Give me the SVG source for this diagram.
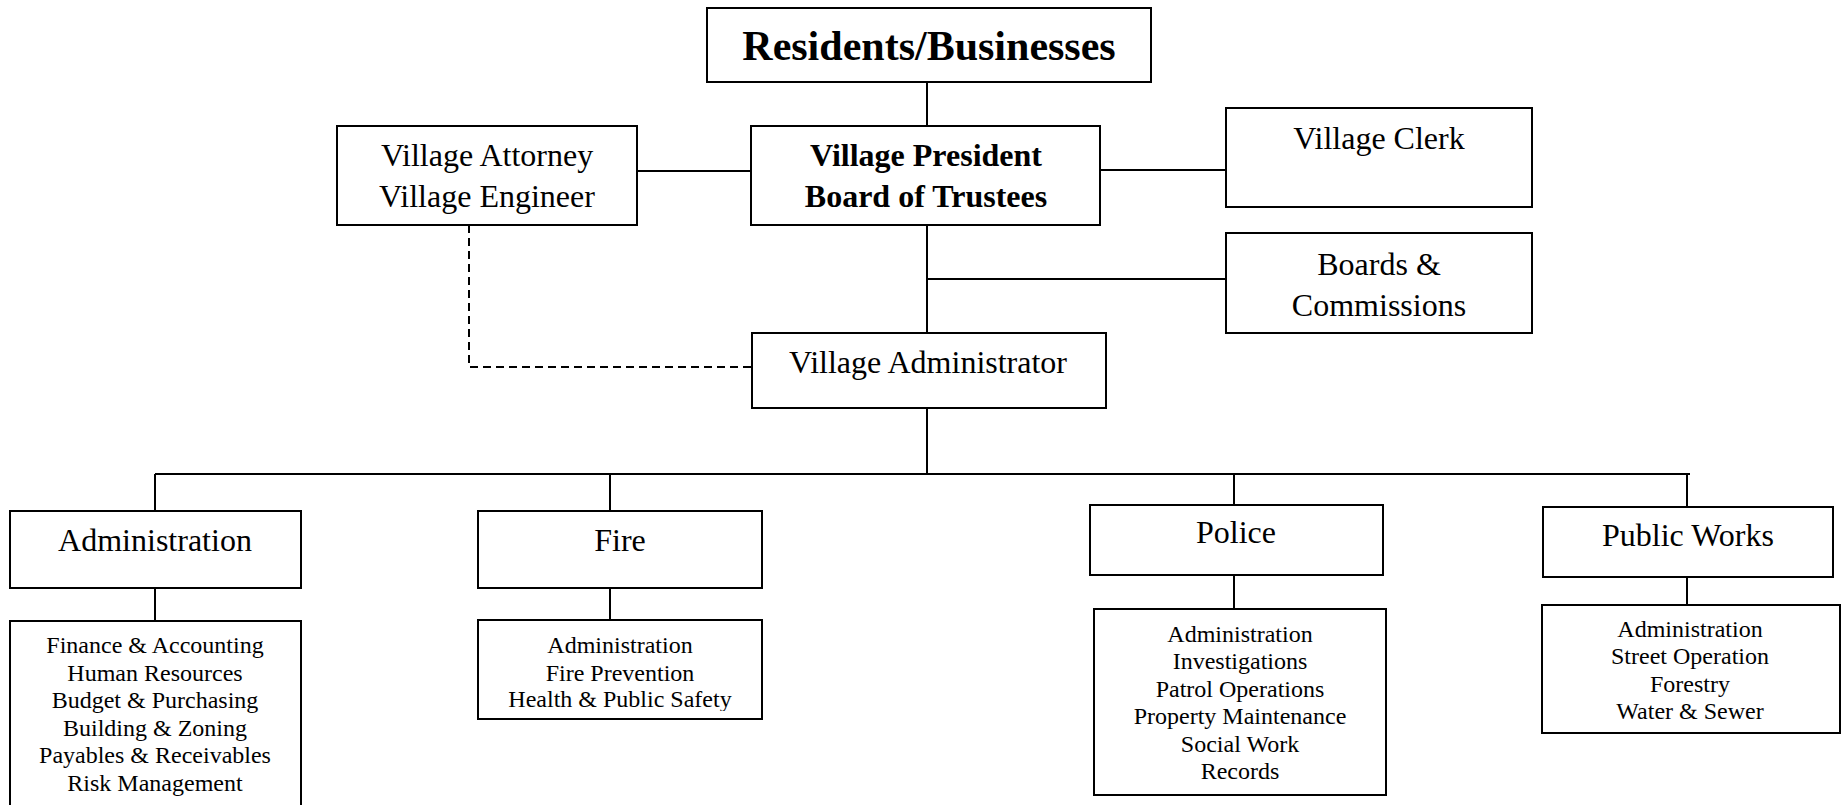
<svg xmlns="http://www.w3.org/2000/svg" width="1845" height="805" viewBox="0 0 1845 805">
<style>
.box{fill:#fff;stroke:#000;stroke-width:2}
.t{font-family:"Liberation Serif","Times New Roman",serif;fill:#000;text-anchor:middle}
.l{font-size:32px}
.b{font-weight:bold}
.s{font-size:24px}
.c{stroke:#000;stroke-width:2;fill:none}
.d{stroke-dasharray:8 5}
</style>
<defs>
<clipPath id="fireclip"><rect x="478" y="620" width="284" height="91"/></clipPath>
</defs>
<g id="connectors">
<line class="c" x1="927" y1="82" x2="927" y2="126"/>
<line class="c" x1="637" y1="171" x2="751" y2="171"/>
<line class="c" x1="1100" y1="170" x2="1226" y2="170"/>
<line class="c" x1="927" y1="225" x2="927" y2="333"/>
<line class="c" x1="927" y1="279" x2="1226" y2="279"/>
<polyline class="c d" points="469,225 469,367 751,367"/>
<line class="c" x1="927" y1="408" x2="927" y2="474"/>
<line class="c" x1="155" y1="474" x2="1690" y2="474"/>
<line class="c" x1="155" y1="474" x2="155" y2="511"/>
<line class="c" x1="610" y1="474" x2="610" y2="511"/>
<line class="c" x1="1234" y1="474" x2="1234" y2="505"/>
<line class="c" x1="1687" y1="474" x2="1687" y2="507"/>
<line class="c" x1="155" y1="588" x2="155" y2="621"/>
<line class="c" x1="610" y1="588" x2="610" y2="620"/>
<line class="c" x1="1234" y1="575" x2="1234" y2="609"/>
<line class="c" x1="1687" y1="577" x2="1687" y2="605"/>
</g>
<g id="residents">
<rect class="box" x="707" y="8" width="444" height="74"/>
<text class="t b" x="929" y="60" font-size="42">Residents/Businesses</text>
</g>
<g id="attorney">
<rect class="box" x="337" y="126" width="300" height="99"/>
<text class="t l" x="487" y="166">Village Attorney</text>
<text class="t l" x="487" y="207">Village Engineer</text>
</g>
<g id="president">
<rect class="box" x="751" y="126" width="349" height="99"/>
<text class="t l b" x="926" y="166">Village President</text>
<text class="t l b" x="926" y="207">Board of Trustees</text>
</g>
<g id="clerk">
<rect class="box" x="1226" y="108" width="306" height="99"/>
<text class="t l" x="1379" y="149">Village Clerk</text>
</g>
<g id="boards">
<rect class="box" x="1226" y="233" width="306" height="100"/>
<text class="t l" x="1379" y="275">Boards &amp;</text>
<text class="t l" x="1379" y="316">Commissions</text>
</g>
<g id="administrator">
<rect class="box" x="752" y="333" width="354" height="75"/>
<text class="t l" x="928" y="373">Village Administrator</text>
</g>
<g id="administration">
<rect class="box" x="10" y="511" width="291" height="77"/>
<text class="t l" x="155" y="551">Administration</text>
</g>
<g id="administration-units">
<rect class="box" x="10" y="621" width="291" height="195"/>
<text class="t s" x="155" y="653">Finance &amp; Accounting</text>
<text class="t s" x="155" y="681">Human Resources</text>
<text class="t s" x="155" y="708">Budget &amp; Purchasing</text>
<text class="t s" x="155" y="736">Building &amp; Zoning</text>
<text class="t s" x="155" y="763">Payables &amp; Receivables</text>
<text class="t s" x="155" y="791">Risk Management</text>
</g>
<g id="fire">
<rect class="box" x="478" y="511" width="284" height="77"/>
<text class="t l" x="620" y="551">Fire</text>
</g>
<g id="fire-units">
<rect class="box" x="478" y="620" width="284" height="99"/>
<g clip-path="url(#fireclip)">
<text class="t s" x="620" y="653">Administration</text>
<text class="t s" x="620" y="681">Fire Prevention</text>
<text class="t s" x="620" y="707">Health &amp; Public Safety</text>
</g>
</g>
<g id="police">
<rect class="box" x="1090" y="505" width="293" height="70"/>
<text class="t l" x="1236" y="543">Police</text>
</g>
<g id="police-units">
<rect class="box" x="1094" y="609" width="292" height="186"/>
<text class="t s" x="1240" y="642">Administration</text>
<text class="t s" x="1240" y="669">Investigations</text>
<text class="t s" x="1240" y="697">Patrol Operations</text>
<text class="t s" x="1240" y="724">Property Maintenance</text>
<text class="t s" x="1240" y="752">Social Work</text>
<text class="t s" x="1240" y="779">Records</text>
</g>
<g id="publicworks">
<rect class="box" x="1543" y="507" width="290" height="70"/>
<text class="t l" x="1688" y="546">Public Works</text>
</g>
<g id="publicworks-units">
<rect class="box" x="1542" y="605" width="298" height="128"/>
<text class="t s" x="1690" y="637">Administration</text>
<text class="t s" x="1690" y="664">Street Operation</text>
<text class="t s" x="1690" y="692">Forestry</text>
<text class="t s" x="1690" y="719">Water &amp; Sewer</text>
</g>
</svg>
